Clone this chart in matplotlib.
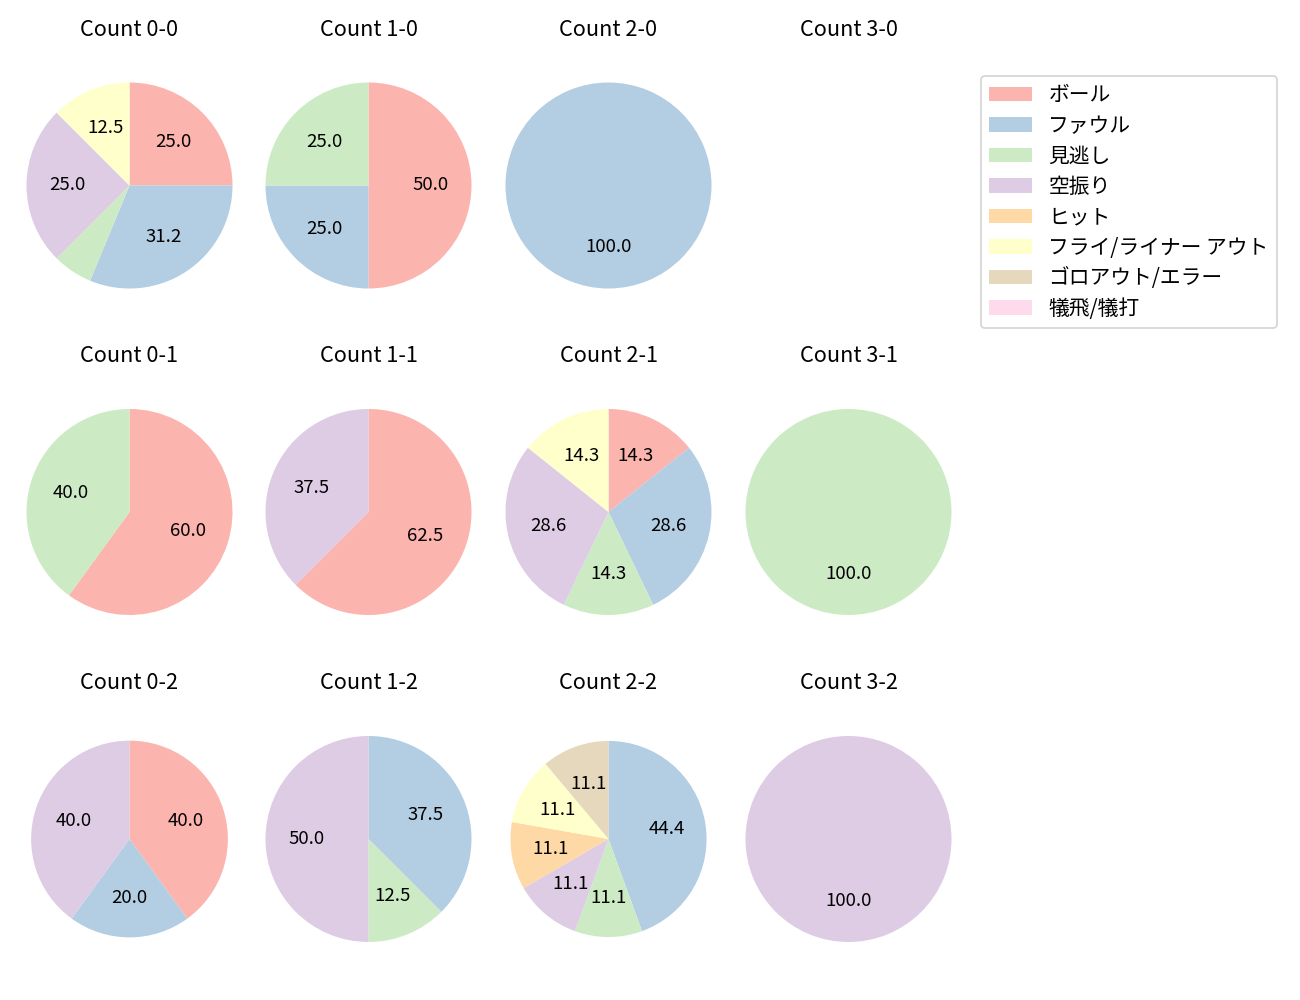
import matplotlib
matplotlib.use("Agg")
import matplotlib.pyplot as plt
from matplotlib.patches import Patch

plt.rcParams['font.family'] = ['Noto Sans CJK JP', 'DejaVu Sans']

categories = ['ボール', 'ファウル', '見逃し', '空振り', 'ヒット',
              'フライ/ライナー アウト', 'ゴロアウト/エラー', '犠飛/犠打']
colors = ['#fbb4ae', '#b3cde3', '#ccebc5', '#decbe4', '#fed9a6',
          '#ffffcc', '#e5d8bd', '#fddaec']

titles = ['Count 0-0', 'Count 1-0', 'Count 2-0', 'Count 3-0',
          'Count 0-1', 'Count 1-1', 'Count 2-1', 'Count 3-1',
          'Count 0-2', 'Count 1-2', 'Count 2-2', 'Count 3-2']

count_0_0 = [4, 5, 1, 4, 0, 2, 0, 0]
count_1_0 = [2, 1, 1, 0, 0, 0, 0, 0]
count_2_0 = [0, 1, 0, 0, 0, 0, 0, 0]
count_3_0 = [0, 0, 0, 0, 0, 0, 0, 0]
count_0_1 = [3, 0, 2, 0, 0, 0, 0, 0]
count_1_1 = [5, 0, 0, 3, 0, 0, 0, 0]
count_2_1 = [1, 2, 1, 2, 0, 1, 0, 0]
count_3_1 = [0, 0, 1, 0, 0, 0, 0, 0]
count_0_2 = [2, 1, 0, 2, 0, 0, 0, 0]
count_1_2 = [0, 3, 1, 4, 0, 0, 0, 0]
count_2_2 = [0, 4, 1, 1, 1, 1, 1, 0]
count_3_2 = [0, 0, 0, 1, 0, 0, 0, 0]

all_counts = [count_0_0, count_1_0, count_2_0, count_3_0,
              count_0_1, count_1_1, count_2_1, count_3_1,
              count_0_2, count_1_2, count_2_2, count_3_2]

# style: pie radius per panel
radii = [1, 1, 1, 1,
         1, 1, 1, 1,
         0.955, 1, 0.952, 1]

W, H = 1300, 1000
fig = plt.figure(figsize=(W / 130, H / 130), dpi=130)

col_cx = [129.5, 368.5, 608.5, 848.5]
row_cy = [185.5, 512, 839]
ax_w = 257.5
ax_h = 277.4

def autopct(p):
    return f'{p:.1f}' if p >= 10 else ''

for i, (vals, title) in enumerate(zip(all_counts, titles)):
    r, c = divmod(i, 4)
    cx, cy = col_cx[c], row_cy[r]
    ax = fig.add_axes([(cx - ax_w / 2) / W, 1 - (cy + ax_h / 2) / H, ax_w / W, ax_h / H])
    nz = [(v, col) for v, col in zip(vals, colors) if v > 0]
    if nz:
        ax.pie([v for v, _ in nz], colors=[col for _, col in nz],
               startangle=90, counterclock=False, autopct=autopct,
               radius=radii[i], textprops={'fontsize': 10.3})
    ax.set_xlim(-1.25, 1.25)
    ax.set_ylim(-1.25 * ax_h / ax_w, 1.25 * ax_h / ax_w)
    ax.set_aspect('auto')
    ax.axis('off')
    ax.set_title(title, fontsize=12, pad=6)

handles = [Patch(facecolor=col, label=lab) for col, lab in zip(colors, categories)]
fig.legend(handles=handles, loc='upper left',
           bbox_to_anchor=(981 / W, 1 - 76 / H), borderaxespad=0, fontsize=11.5,
           labelspacing=0.41, handlelength=2.05)

fig.savefig('out.png', dpi=130)
